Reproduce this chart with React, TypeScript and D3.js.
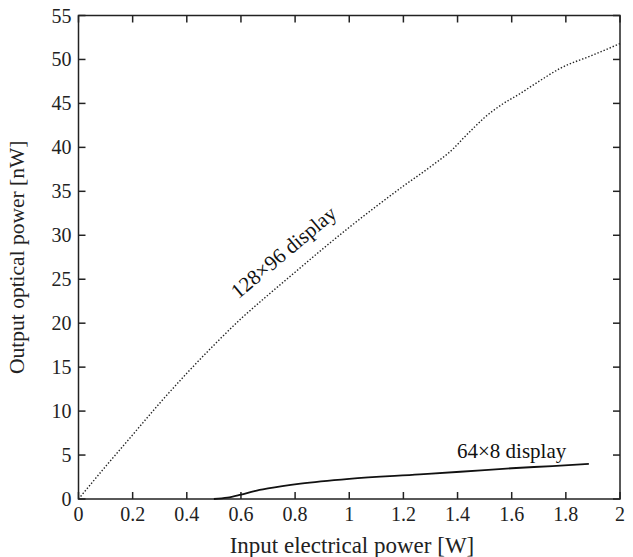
import React, { useRef, useEffect } from "react";
import * as d3 from "d3";

// 128x96 display (dotted curve)
const bigX = [0, 0.1, 0.2, 0.3, 0.4, 0.5, 0.6, 0.7, 0.8, 0.9, 1.0, 1.1, 1.2, 1.3, 1.386, 1.42, 1.459, 1.5, 1.56, 1.63, 1.7, 1.78, 1.9, 2.0];
const bigY = [0, 3.7, 7.3, 10.9, 14.3, 17.5, 20.5, 23.2, 25.8, 28.4, 30.9, 33.3, 35.6, 37.8, 39.9, 41.0, 42.2, 43.4, 44.8, 46.1, 47.5, 49.0, 50.5, 51.8];

// 64x8 display (solid curve)
const smallX = [0.5, 0.55, 0.6, 0.65, 0.7, 0.82, 1.0, 1.26, 1.41, 1.6, 1.75, 1.885];
const smallY = [0, 0.15, 0.5, 0.9, 1.2, 1.75, 2.3, 2.8, 3.1, 3.5, 3.75, 4.0];

const xTicks = [0, 0.2, 0.4, 0.6, 0.8, 1, 1.2, 1.4, 1.6, 1.8, 2];
const yTicks = [0, 5, 10, 15, 20, 25, 30, 35, 40, 45, 50, 55];

const labels = [
  { text: "128\u00d796 display", x: 0.59, y: 22.7, angle: -40 },
  { text: "64\u00d78 display", x: 1.398, y: 4.65, angle: 0 },
];

const W = 633;
const H = 557;
const left = 78.5, right = 620, top = 15.5, bottom = 499;
const font = "'Liberation Serif', 'Times New Roman', serif";

const App = () => {
  const ref = useRef<SVGSVGElement>(null);

  useEffect(() => {
    const svg = d3.select(ref.current);
    svg.selectAll("*").remove();

    const x = d3.scaleLinear().domain([0, 2]).range([left, right]);
    const y = d3.scaleLinear().domain([0, 55]).range([bottom, top]);
    const ink = "#222";

    // frame
    svg.append("rect")
      .attr("x", left).attr("y", top)
      .attr("width", right - left).attr("height", bottom - top)
      .attr("fill", "none").attr("stroke", ink).attr("stroke-width", 1.5);

    // ticks pointing inward, on all four sides
    const tl = 7;
    const g = svg.append("g").attr("stroke", ink).attr("stroke-width", 1.5);
    xTicks.forEach(t => {
      g.append("line").attr("x1", x(t)).attr("x2", x(t)).attr("y1", bottom).attr("y2", bottom - tl);
      g.append("line").attr("x1", x(t)).attr("x2", x(t)).attr("y1", top).attr("y2", top + tl);
    });
    yTicks.forEach(t => {
      g.append("line").attr("x1", left).attr("x2", left + tl).attr("y1", y(t)).attr("y2", y(t));
      g.append("line").attr("x1", right).attr("x2", right - tl).attr("y1", y(t)).attr("y2", y(t));
    });

    // tick labels
    svg.append("g").selectAll("text").data(xTicks).join("text")
      .attr("x", d => x(d)).attr("y", bottom + 22)
      .attr("text-anchor", "middle")
      .attr("font-family", font).attr("font-size", 20).attr("fill", ink)
      .text(d => String(d));
    svg.append("g").selectAll("text").data(yTicks).join("text")
      .attr("x", left - 7).attr("y", d => y(d) + 7)
      .attr("text-anchor", "end")
      .attr("font-family", font).attr("font-size", 20).attr("fill", ink)
      .text(d => String(d));

    // axis titles
    svg.append("text")
      .attr("x", 352).attr("y", 553)
      .attr("text-anchor", "middle")
      .attr("font-family", font).attr("font-size", 23).attr("fill", ink)
      .text("Input electrical power [W]");
    svg.append("text")
      .attr("transform", `translate(24, ${(top + bottom) / 2}) rotate(-90)`)
      .attr("text-anchor", "middle")
      .attr("font-family", font).attr("font-size", 21.5).attr("fill", ink)
      .text("Output optical power [nW]");

    const line = d3.line<number>()
      .curve(d3.curveMonotoneX);

    // dotted curve
    svg.append("path")
      .attr("d", line.x((d, i) => x(bigX[i])).y(d => y(d))(bigY))
      .attr("fill", "none")
      .attr("stroke", ink)
      .attr("stroke-width", 1.4)
      .attr("stroke-dasharray", "1.4,1.9");

    // solid curve
    svg.append("path")
      .attr("d", line.x((d, i) => x(smallX[i])).y(d => y(d))(smallY))
      .attr("fill", "none")
      .attr("stroke", "#111")
      .attr("stroke-width", 1.8);

    // curve labels
    labels.forEach(l => {
      svg.append("text")
        .attr("transform", `translate(${x(l.x)}, ${y(l.y)}) rotate(${l.angle})`)
        .attr("font-family", font).attr("font-size", 21).attr("fill", "#111")
        .text(l.text);
    });
  }, []);

  return (
    <svg
      ref={ref}
      width={W}
      height={H}
      style={{ position: "absolute", left: 0, top: 0, background: "#fff" }}
    />
  );
};

export default App;
